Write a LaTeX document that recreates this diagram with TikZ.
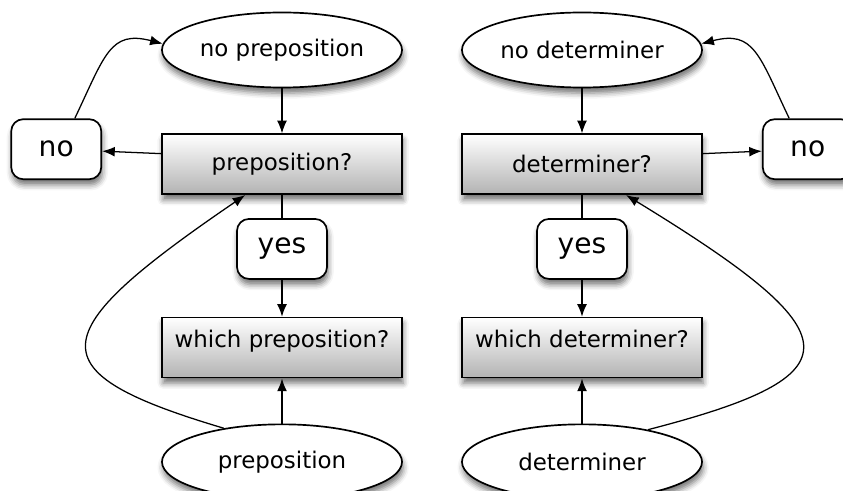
\documentclass[tikz,border=0pt]{standalone}
\usepackage{fontspec}
\setmainfont{DejaVu Sans}
\usetikzlibrary{positioning,shapes.geometric,arrows.meta,shadows.blur}

\begin{document}
\begin{tikzpicture}[x=0.025cm,y=-0.025cm,font=\fontsize{16.3}{19}\selectfont,
  >={Latex[length=9pt,width=7pt]},
  dropshade/.style={blur shadow={shadow xshift=0.8pt,shadow yshift=-4pt,shadow blur radius=4pt,shadow opacity=55}},
  oval/.style={ellipse,draw,line width=1.2pt,fill=white,minimum width=6cm,minimum height=1.875cm,inner sep=0pt,dropshade},
  query/.style={rectangle,draw,line width=1.2pt,top color=white,bottom color=black!30,minimum width=6cm,minimum height=1.5cm,dropshade},
  raised/.style={text height=0.3cm,text depth=0.3cm},
  answer/.style={rectangle,rounded corners=0.3cm,draw,line width=1.2pt,fill=white,minimum width=2.25cm,minimum height=1.5cm,font=\fontsize{20}{24}\selectfont,dropshade},
  link/.style={line width=0.9pt}]
  \useasboundingbox (0,0) rectangle (843,491);
  \node [oval] (noprep) at (282,50) {no preposition};
  \node [query,below=1.125cm of noprep] (prepq) {preposition?};
  \node [answer,below=0.575cm of prepq] (yesL) {yes};
  \node [query,raised,below=0.925cm of yesL] (whichprep) {which preposition?};
  \node [oval,below=1.125cm of whichprep] (prep) {preposition};
  \node [answer,left=1.475cm of prepq,yshift=0.375cm] (noL) {no};
  \node [oval] (nodet) at (582,50) {no determiner};
  \node [query,below=1.125cm of nodet] (detq) {determiner?};
  \node [answer,below=0.575cm of detq] (yesR) {yes};
  \node [query,raised,below=0.925cm of yesR] (whichdet) {which determiner?};
  \node [oval,below=1.125cm of whichdet] (det) {determiner};
  \node [answer,right=1.475cm of detq,yshift=0.375cm] (noR) {no};
  \draw [link,->] (noprep) -- (prepq);
  \draw [link,->] (prepq.175) -- (noL);
  \draw [link] (prepq) -- (yesL);
  \draw [link,->] (yesL) -- (whichprep);
  \draw [link,->] (prep) -- (whichprep);
  \draw [link,->] (noL.59) .. controls (105,55) and (110,30) .. (noprep.177);
  \draw [link,->] (prep.150) .. controls (35,372) and (40,335) .. (prepq.220);
  \draw [link,->] (nodet) -- (detq);
  \draw [link,->] (detq.5) -- (noR);
  \draw [link] (detq) -- (yesR);
  \draw [link,->] (yesR) -- (whichdet);
  \draw [link,->] (det) -- (whichdet);
  \draw [link,->] (noR.121) .. controls (759,55) and (754,30) .. (nodet.3);
  \draw [link,->] (det.26) .. controls (860,375) and (855,335) .. (detq.325);
\end{tikzpicture}
\end{document}
